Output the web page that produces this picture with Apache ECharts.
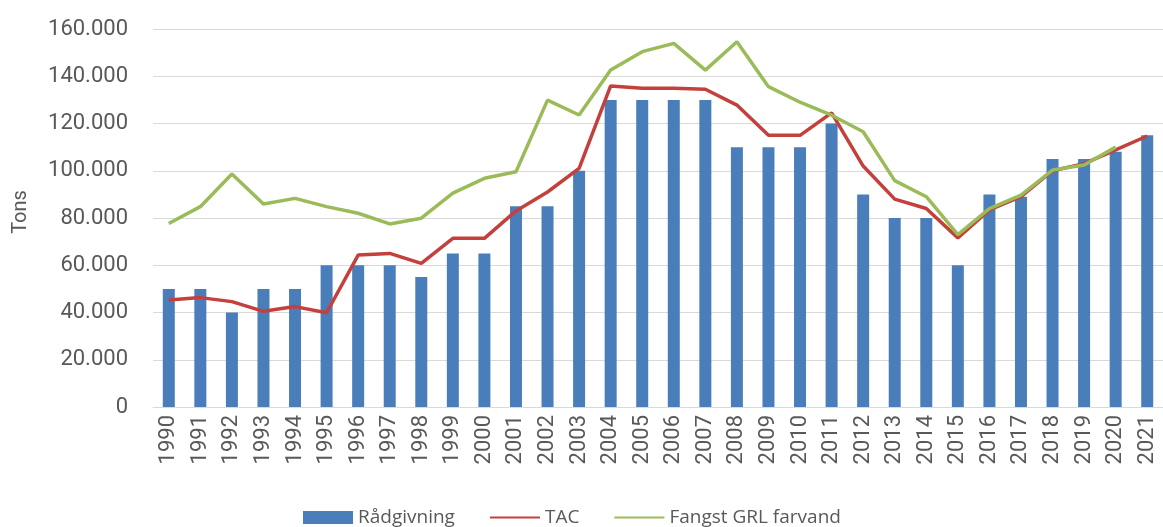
<!DOCTYPE html>
<html>
<head>
<meta charset="utf-8">
<script src="https://cdn.jsdelivr.net/npm/echarts@6/dist/echarts.min.js"></script>
<style>
html,body{margin:0;padding:0;background:#fff;}
#chart{width:1163px;height:527px;}
</style>
</head>
<body>
<div id="chart"></div>
<script>
var years = ['1990','1991','1992','1993','1994','1995','1996','1997','1998','1999','2000','2001','2002','2003','2004','2005','2006','2007','2008','2009','2010','2011','2012','2013','2014','2015','2016','2017','2018','2019','2020','2021'];
var raadgivning = [50000,50000,40000,50000,50000,60000,60000,60000,55000,65000,65000,85000,85000,100000,130000,130000,130000,130000,110000,110000,110000,120000,90000,80000,80000,60000,90000,89000,105000,105000,108000,115000];
var tac = [45300,46300,44600,40500,42500,39900,64300,65000,60800,71400,71400,83000,91000,101000,135900,134900,134900,134500,127800,115000,115000,124500,102000,88000,84000,71600,83400,89000,100000,103000,108800,114700];
var fangst = [77700,84800,98600,85900,88300,84800,82000,77500,79900,90500,96800,99600,129900,123600,142600,150400,153900,142600,154600,135600,129000,123500,116500,95800,89000,73000,84000,89700,100300,102400,110000,null];
var seriesNames = ['Rådgivning','TAC','Fangst GRL farvand'];
var yMax = 160000, yStep = 20000;

var font = "Roboto, 'Open Sans', sans-serif";
var chart = echarts.init(document.getElementById('chart'), null, {renderer:'canvas'});
chart.setOption({
  animation:false,
  backgroundColor:'#ffffff',
  grid:{left:153, top:29, width:1017, height:378, containLabel:false},
  legend:{
    data:[
      {name:seriesNames[0], icon:'rect'},
      {name:seriesNames[1], itemStyle:{opacity:0}},
      {name:seriesNames[2], itemStyle:{opacity:0}}
    ],
    left:298, top:503,
    itemWidth:50, itemHeight:13, itemGap:34,
    textStyle:{color:'#595959', fontSize:19, fontFamily:"'Open Sans', sans-serif"}
  },
  xAxis:{
    type:'category', data:years,
    axisTick:{show:false},
    axisLine:{lineStyle:{color:'#d9d9d9', width:1}},
    axisLabel:{interval:0, rotate:90, color:'#595959', fontSize:22, fontFamily:font, margin:8}
  },
  yAxis:{
    type:'value', min:0, max:yMax, interval:yStep,
    name:'Tons', nameLocation:'middle', nameRotate:90, nameGap:122,
    nameTextStyle:{color:'#595959', fontSize:20, fontFamily:font, padding:[0,0,0,12]},
    axisLine:{show:false}, axisTick:{show:false},
    splitLine:{lineStyle:{color:'#d9d9d9', width:1}},
    axisLabel:{color:'#595959', fontSize:22, fontFamily:font, margin:25,
      formatter:function(v){ return v===0 ? '0' : (v/1000) + '.000'; }}
  },
  series:[
    {name:seriesNames[0], type:'bar', data:raadgivning, barWidth:12, itemStyle:{color:'#4a7ebb'}},
    {name:seriesNames[1], type:'line', data:tac, symbol:'none', lineStyle:{color:'#c4403c', width:3.5}, itemStyle:{color:'#c4403c'}},
    {name:seriesNames[2], type:'line', data:fangst, symbol:'none', lineStyle:{color:'#9bbb59', width:3.5}, itemStyle:{color:'#9bbb59'}}
  ]
});
</script>
</body>
</html>
